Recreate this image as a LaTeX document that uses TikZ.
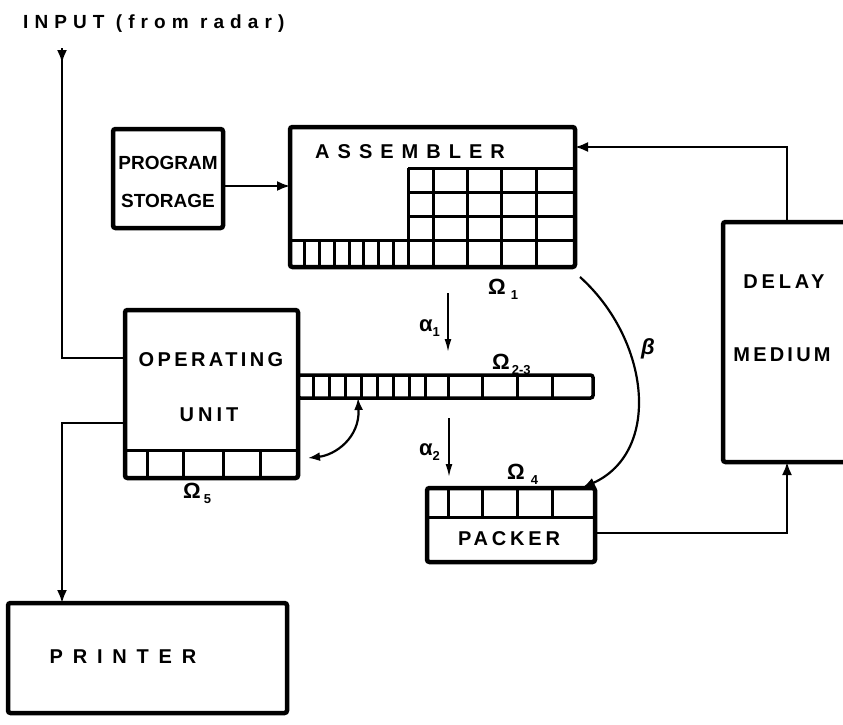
\documentclass[tikz,border=0pt]{standalone}
\usepackage{fontspec}
\setmainfont{Liberation Sans}
\usetikzlibrary{arrows.meta}
\newcommand\trk[2]{{\addfontfeature{LetterSpace=#1}#2}}
\begin{document}
\begin{tikzpicture}[x=1pt,y=-1pt,
  box/.style={draw, line width=4.5pt, rounded corners=2.5pt, inner sep=0pt, outer sep=0pt},
  cell/.style={line width=3pt},
  conn/.style={line width=2.2pt},
  arr/.style={conn, -{Latex[length=13pt,width=10pt]}},
  thinarr/.style={line width=1.8pt, -{Latex[length=13pt,width=7pt]}},
  lbl/.style={font=\bfseries\fontsize{20}{24}\selectfont, inner sep=0pt},
  greek/.style={font=\bfseries\fontsize{22}{24}\selectfont, inner sep=0pt}]
\useasboundingbox (0,0) rectangle (843,724);

% ---- boxes ----
\node[box, minimum width=110pt, minimum height=99pt] (ps) at (168,178.5) {};
\node[lbl, align=center, font=\bfseries\fontsize{19}{23}\selectfont] (pst) at (168,182) {PROGRAM\\[15pt]STORAGE};

\node[box, minimum width=285pt, minimum height=140pt] (asm) at (432.5,197) {};
\node[lbl] (asmt) at (410,152) {\trk{40}{ASSEMBLER}};
\draw[cell] (408,168) -- (575,168) (408,192) -- (575,192) (408,216) -- (575,216)
            (290,240) -- (575,240) (408,168) -- (408,267);
\foreach \x in {433,467,501,536} \draw[cell] (\x,168) -- (\x,267);
\foreach \x in {304.75,319.5,334.25,349,363.75,378.5,393.25} \draw[cell] (\x,240) -- (\x,267);

\node[box, minimum width=173pt, minimum height=168pt] (ou) at (211.5,394) {};
\draw[cell] (125,450) -- (298,450);
\foreach \x in {147,183,223,260} \draw[cell] (\x,450) -- (\x,478);
\node[lbl] (out1) at (211,360) {\trk{17}{OPERATING}};
\node[lbl] (out2) at (209,415) {\trk{20}{UNIT}};

\node[box, line width=3.5pt, minimum width=295pt, minimum height=23pt] (reg) at (445.5,386.5) {};
\foreach \x in {313.9,329.75,345.6,361.5,377.4,393.25,409.1,425,448,482,517,552} \draw[cell] (\x,375) -- (\x,398);

\node[box, minimum width=168pt, minimum height=74pt] (pk) at (511,525) {};
\draw[cell] (427,517) -- (595,517);
\foreach \x in {448,482,517,552} \draw[cell] (\x,488) -- (\x,517);
\node[lbl] (pkt) at (509,539) {\trk{19}{PACKER}};

\node[box, minimum width=135pt, minimum height=240pt] (dl) at (790.5,342) {};
\node[lbl] (dlt1) at (784,282) {\trk{19}{DELAY}};
\node[lbl] (dlt2) at (782,355) {\trk{16}{MEDIUM}};

\node[box, minimum width=279pt, minimum height=110pt] (pr) at (147.5,658) {};
\node[lbl] (prt) at (123,657) {\trk{49}{PRINTER}};

\node[font=\bfseries\fontsize{19}{22}\selectfont, anchor=west, inner sep=0pt] (inl) at (23,24) {\trk{32}{INPUT (from radar)}};

% ---- greek labels ----
\node[greek, anchor=west] (om1) at (488,289) {Ω\hspace{5pt}\raisebox{-5pt}{\fontsize{13}{13}\selectfont 1}};
\node[greek, anchor=west] (om23) at (492,364) {Ω\hspace{2pt}\raisebox{-5pt}{\fontsize{13}{13}\selectfont 2-3}};
\node[greek, anchor=west] (om4) at (507,474) {Ω\hspace{6pt}\raisebox{-5pt}{\fontsize{13}{13}\selectfont 4}};
\node[greek, anchor=west] (om5) at (183,493) {Ω\hspace{3pt}\raisebox{-5pt}{\fontsize{13}{13}\selectfont 5}};
\node[greek, anchor=east] (al1) at (440,328) {α\raisebox{-5pt}{\fontsize{13}{13}\selectfont 1}};
\node[greek, anchor=east] (al2) at (440,452) {α\raisebox{-5pt}{\fontsize{13}{13}\selectfont 2}};
\node[greek, font=\bfseries\itshape\fontsize{22}{24}\selectfont] (bt) at (648,349) {β};

% ---- connectors ----
\coordinate (inp) at (62,48);
\draw[conn] (inp) |- (ou.west |- 0,358);
\draw[arr] (inp) -- ++(0,15);
\draw[arr] (ou.west |- 0,423) -| (pr.north -| inp);
\draw[arr] (ps.east |- 0,186) -- (asm.west |- 0,186);
\draw[arr] (dl.north -| 787,0) |- (asm.east |- 0,147);
\draw[arr] (pk.east |- 0,533) -| (dl.south -| 787,0);

\coordinate (a1s) at (448,293);
\coordinate (a1e) at (448,352);
\draw[thinarr] (a1s) -- (a1e);
\coordinate (a2s) at (449,418);
\coordinate (a2e) at (449,477);
\draw[thinarr] (a2s) -- (a2e);

\coordinate (b0) at (580,277);
\draw[arr] (b0) .. controls (650,340) and (662,452) .. ([xshift=-13pt]pk.north east);

\coordinate (dd) at (308,458);
\draw[conn, {Latex[length=12pt,width=9pt]}-{Latex[length=12pt,width=9pt]}] (reg.south -| 358,0) .. controls (360,438) and (335,455) .. (dd);
\end{tikzpicture}
\end{document}
